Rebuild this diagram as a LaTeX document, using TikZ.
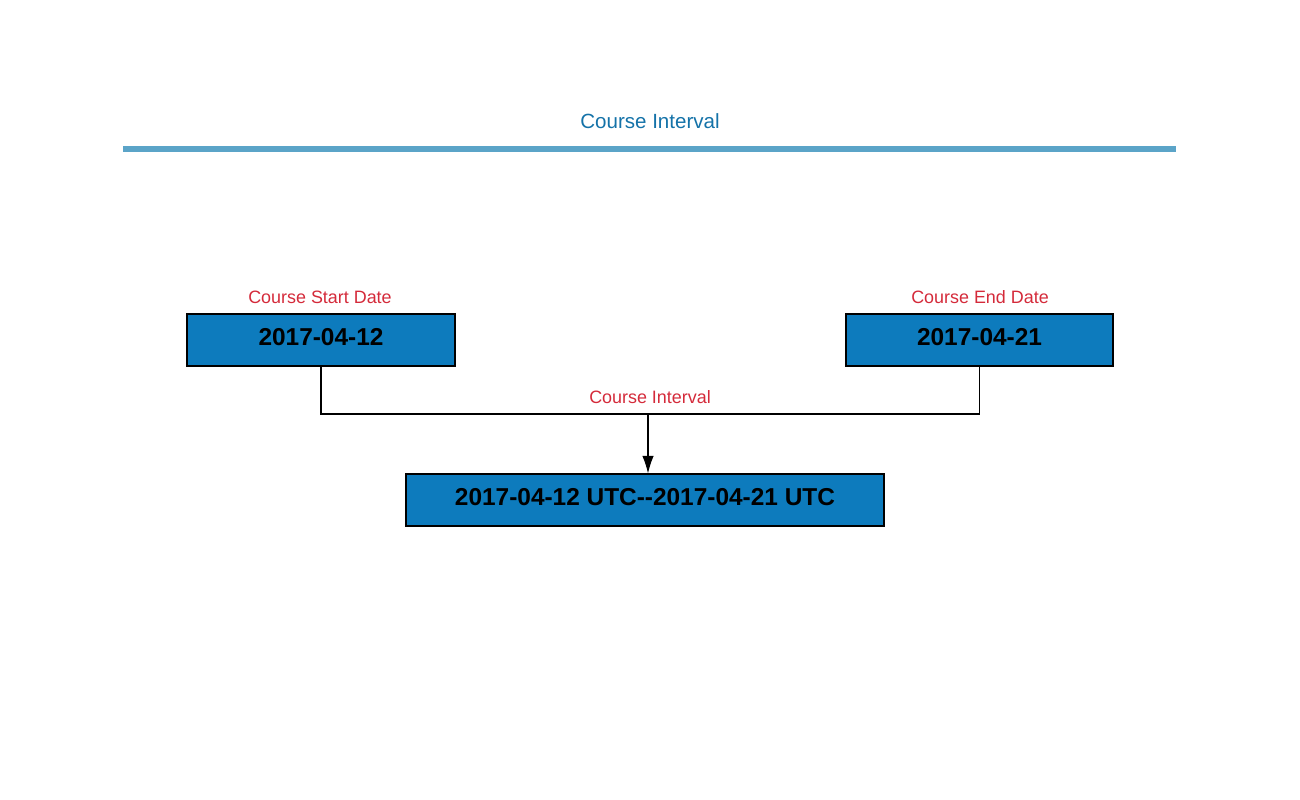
\documentclass[tikz,border=0pt]{standalone}
\usepackage{fontspec}
\setmainfont{Liberation Sans}
\usetikzlibrary{arrows.meta,shadows}
\definecolor{boxblue}{HTML}{0D7BBD}
\definecolor{titleblue}{HTML}{1472A8}
\definecolor{rulblue}{HTML}{5BA4C8}
\definecolor{labred}{HTML}{D42A3A}
\begin{document}
\begin{tikzpicture}[x=0.02cm, y=-0.02cm]
\tikzset{datebox/.style={draw=black, line width=0.6pt, fill=boxblue, inner sep=0pt, text depth=3.4pt, font=\fontsize{13.9}{16}\selectfont\bfseries, drop shadow={shadow xshift=0.6pt, shadow yshift=-0.6pt, opacity=0.7, fill=black}},
rotlabel/.style={text=labred, font=\fontsize{10.2}{12}\selectfont, inner sep=0pt}}
\useasboundingbox (0,0) rectangle (1300,800);
\node[text=titleblue, font=\fontsize{11.7}{14}\selectfont, inner sep=0pt] (titel) at (650,121) {Course Interval};
\draw[rulblue, line width=3pt] (123,149) -- (1176,149);
\node[datebox, minimum width=268*0.02cm, minimum height=52*0.02cm] (D1) at (321,340) {2017-04-12};
\node[datebox, minimum width=267*0.02cm, minimum height=52*0.02cm] (D2) at (979.5,340) {2017-04-21};
\node[datebox, minimum width=478*0.02cm, minimum height=52*0.02cm] (D3) at (645,500) {2017-04-12 UTC-{}-2017-04-21 UTC};
\node[rotlabel] (L1) at (320,297) {Course Start Date};
\node[rotlabel] (L2) at (980,297) {Course End Date};
\node[rotlabel] (L3) at (650,397) {Course Interval};
\coordinate (M) at (648,414);
\draw[line width=0.6pt] (D1.south) |- (M) -| (D2.south);
\draw[line width=0.6pt, -{Latex[length=10pt, width=6.5pt]}] (M) -- (M |- D3.north);
\end{tikzpicture}
\end{document}
